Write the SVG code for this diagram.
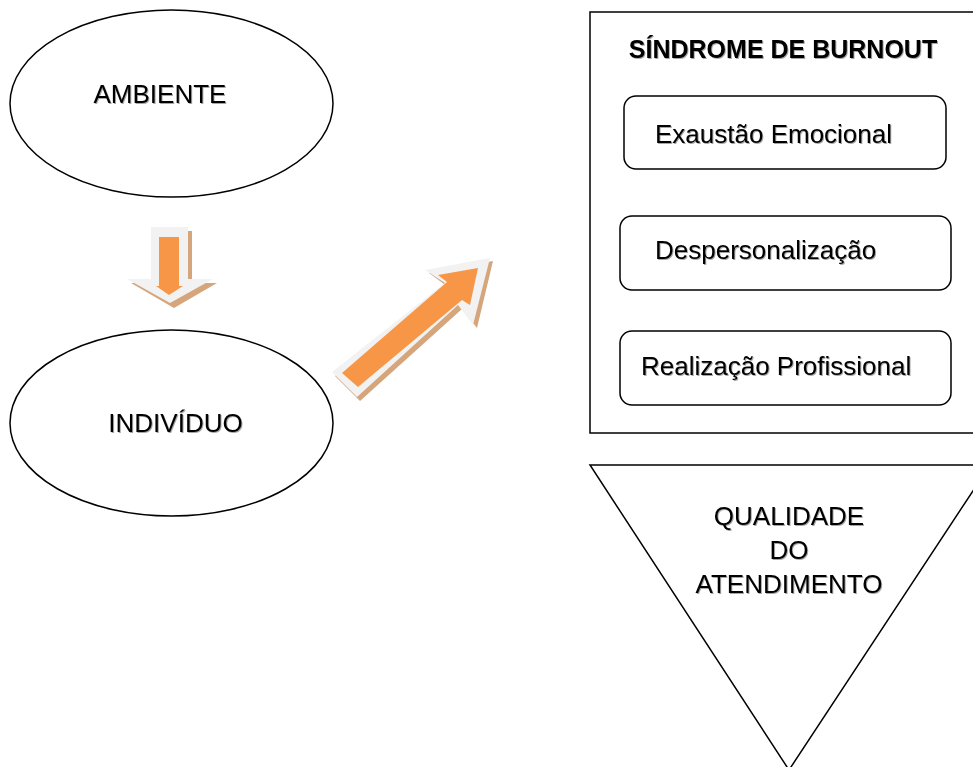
<svg xmlns="http://www.w3.org/2000/svg" width="973" height="767" viewBox="0 0 973 767">
<defs>
<filter id="ts" x="-5%" y="-20%" width="110%" height="140%">
<feDropShadow dx="1" dy="1" stdDeviation="0.6" flood-color="#000" flood-opacity="0.35"/>
</filter>
</defs>
<style>
.shape{fill:#fff;stroke:#000;stroke-width:1.5}
.t{font-family:"Liberation Sans",Arial,sans-serif;font-size:26px;fill:#000;filter:url(#ts)}
.tb{font-family:"Liberation Sans",Arial,sans-serif;font-size:25px;font-weight:bold;fill:#000;filter:url(#ts)}
.glow{fill:#f2f2f2}
.shadow{fill:#d5a57c}
.orange{fill:#f79646}
</style>
<rect width="973" height="767" fill="#fff"/>
<g id="ambiente">
<ellipse class="shape" cx="171.5" cy="103.5" rx="161.5" ry="93.5"/>
<text class="t" x="160" y="103" text-anchor="middle">AMBIENTE</text>
</g>
<g id="individuo">
<ellipse class="shape" cx="171.5" cy="423" rx="161.5" ry="93"/>
<text class="t" x="175.5" y="432" text-anchor="middle">INDIVÍDUO</text>
</g>
<g id="connectors">
<g id="arrow-down">
<polygon class="shadow" points="155,231 192,231 192,283 217,283 174,308 131,283 155,283"/>
<polygon class="glow" points="151,227 188,227 188,279 213,279 170,303 127,279 151,279"/>
<polygon class="orange" points="159,237 179,237 179,286 183,286 169,295 156,286 159,286"/>
</g>
<g id="arrow-diag">
<polygon class="shadow" points="335,376 448,287 429,273 493,261 477,328 462,309 360,401"/>
<polygon class="glow" points="332,372 445,283 425,270 490,258 473,325 458,305 357,397"/>
<polygon class="orange" points="342,373 447,282 438,275 478,268 470,305 462,300 358,387"/>
</g>
</g>
<g id="burnout">
<rect class="shape" x="590" y="12" width="390" height="421"/>
<text class="tb" x="783" y="58" text-anchor="middle">SÍNDROME DE BURNOUT</text>
</g>
<g id="exaustao">
<rect class="shape" x="624" y="96" width="322" height="73" rx="12"/>
<text class="t" x="655" y="143">Exaustão Emocional</text>
</g>
<g id="despersonalizacao">
<rect class="shape" x="620" y="216" width="331" height="74" rx="12"/>
<text class="t" x="655" y="259">Despersonalização</text>
</g>
<g id="realizacao">
<rect class="shape" x="620" y="331" width="331" height="74" rx="12"/>
<text class="t" x="641" y="375">Realização Profissional</text>
</g>
<g id="qualidade">
<polygon class="shape" points="590,465 990,465 789,770"/>
<text class="t" x="789" y="525" text-anchor="middle">QUALIDADE</text>
<text class="t" x="789" y="559" text-anchor="middle">DO</text>
<text class="t" x="789" y="593" text-anchor="middle">ATENDIMENTO</text>
</g>
</svg>
